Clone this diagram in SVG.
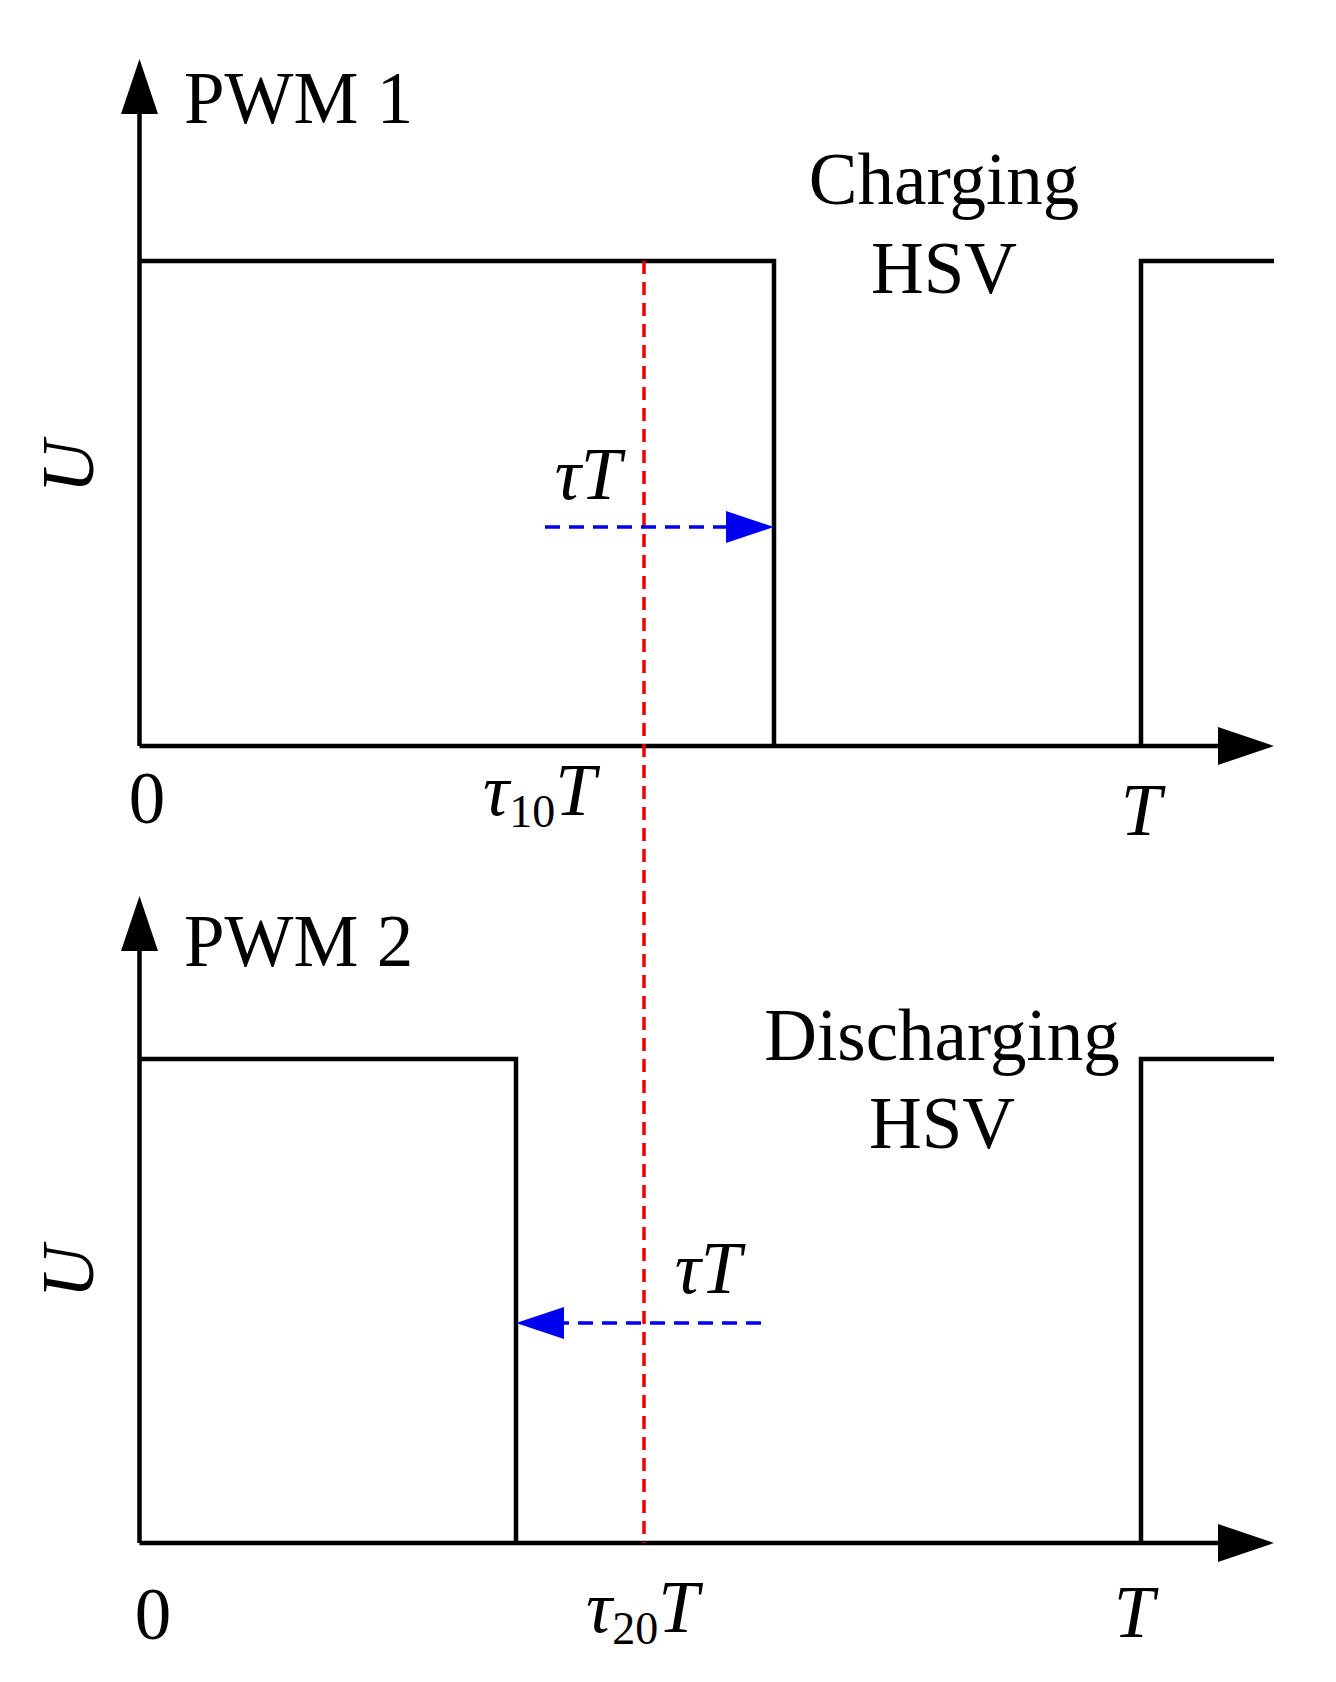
<svg xmlns="http://www.w3.org/2000/svg" width="1336" height="1682" viewBox="0 0 1336 1682">
<style>
.ax{stroke:#000;stroke-width:4.5;fill:none}
.red{stroke:#e00;stroke-width:3.5;stroke-dasharray:13,8;fill:none}
.blue{stroke:#0000f0;stroke-width:3.5;stroke-dasharray:15,9;fill:none}
text{font-family:"Liberation Serif",serif;font-size:73px;fill:#000}
.i{font-style:italic}
.s{font-size:46px}
</style>
<g id="axes1">
<path class="ax" d="M139.5,746 V110"/><path d="M139.5,59 L121,114 L158,114 z"/>
<path class="ax" d="M139.5,746 H1220"/><path d="M1274,746 L1218,727 L1218,765 z"/>
</g>
<g id="pwm1"><path class="ax" d="M139.5,261 H774 V746 M1141,746 V261 H1274"/></g>
<g id="axes2">
<path class="ax" d="M139.5,1543 V950"/><path d="M139.5,896 L121,951 L158,951 z"/>
<path class="ax" d="M139.5,1543 H1220"/><path d="M1274,1543 L1218,1524 L1218,1562 z"/>
</g>
<g id="pwm2"><path class="ax" d="M139.5,1059 H516 V1543 M1141,1543 V1059 H1274"/></g>
<g id="connectors">
<path class="red" d="M644,261 V1543"/>
<path class="blue" d="M545,527 H728"/><path d="M774,527 L726,511 L726,543 z" fill="#0000f0"/>
<path class="blue" d="M761,1323 H562"/><path d="M516,1323 L564,1307 L564,1339 z" fill="#0000f0"/>
</g>
<g id="labels">
<text x="184" y="123">PWM 1</text>
<text x="944" y="204" text-anchor="middle">Charging</text>
<text x="944" y="293" text-anchor="middle">HSV</text>
<text class="i" transform="translate(93,467) rotate(-90)" text-anchor="middle">U</text>
<text class="i" x="588" y="499" text-anchor="middle">τT</text>
<text x="147" y="823" text-anchor="middle">0</text>
<text class="i" x="483" y="815">τ<tspan class="s" font-style="normal" dy="12">10</tspan><tspan dy="-12">T</tspan></text>
<text class="i" x="1141" y="835" text-anchor="middle">T</text>
<text x="184" y="966">PWM 2</text>
<text x="942" y="1060" text-anchor="middle">Discharging</text>
<text x="942" y="1148" text-anchor="middle">HSV</text>
<text class="i" transform="translate(93,1272) rotate(-90)" text-anchor="middle">U</text>
<text class="i" x="708" y="1293" text-anchor="middle">τT</text>
<text x="153" y="1639" text-anchor="middle">0</text>
<text class="i" x="586" y="1632">τ<tspan class="s" font-style="normal" dy="12">20</tspan><tspan dy="-12">T</tspan></text>
<text class="i" x="1134" y="1637" text-anchor="middle">T</text>
</g>
</svg>
